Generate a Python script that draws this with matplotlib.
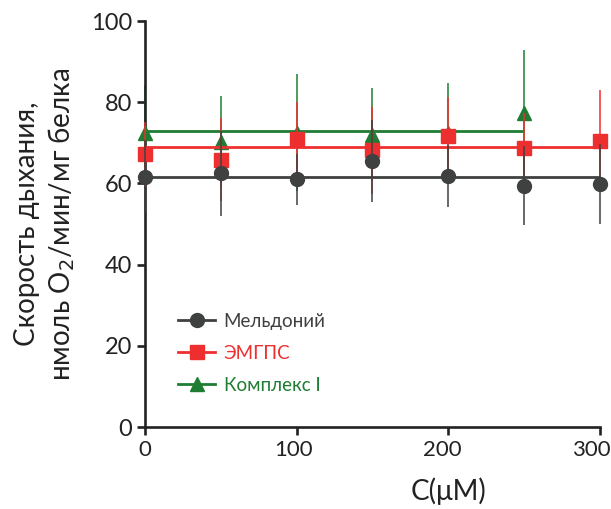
import matplotlib
matplotlib.use("Agg")
import matplotlib.pyplot as plt
from matplotlib.lines import Line2D
from matplotlib.transforms import ScaledTranslation

plt.rcParams['font.family'] = ['Lato', 'DejaVu Sans']

# data
conc = [0, 50, 100, 150, 200, 250, 300]
meld = [61.6, 62.5, 61.0, 65.5, 61.8, 59.4, 59.8]
meld_err = [9.0, 10.5, 6.2, 10.0, 7.7, 9.7, 9.9]
emgps = [67.2, 65.8, 70.9, 68.2, 71.8, 68.6, 70.4]
emgps_err = [8.0, 10.2, 9.2, 10.7, 9.4, 8.7, 12.6]
conc_c1 = [0, 50, 100, 150, 200, 250]
compl = [72.3, 70.3, 72.5, 72.0, 72.3, 77.4]
compl_err = [12.0, 11.3, 14.4, 11.5, 12.4, 15.5]
mean_meld = 61.7
mean_emgps = 69.0
mean_compl = 73.0

labels = ['Мельдоний', 'ЭМГПС', 'Комплекс I']
c_grey = '#3f4040'
c_red = '#ee2f2f'
c_green = '#1e7d32'

fig = plt.figure(figsize=(6.11, 5.09), dpi=100)
ax = fig.add_axes([0.2373, 0.1611, 0.982 - 0.2373, 0.9587 - 0.1611])

# green
ax.errorbar(conc_c1, compl, yerr=compl_err, fmt='none', ecolor=c_green, elinewidth=1.1, capsize=0, zorder=2, clip_on=False)
ax.hlines(mean_compl, conc_c1[0], conc_c1[-1], color=c_green, lw=2.0, zorder=2)
ax.plot(conc_c1, compl, '^', color=c_green, ms=10.5, zorder=3, clip_on=False)
# red
ax.errorbar(conc, emgps, yerr=emgps_err, fmt='none', ecolor=c_red, elinewidth=1.1, capsize=0, zorder=4, clip_on=False)
ax.hlines(mean_emgps, conc[0], conc[-1], color=c_red, lw=2.0, zorder=4)
ax.plot(conc, emgps, 's', color=c_red, ms=10.5, zorder=5, clip_on=False)
# grey
ax.errorbar(conc, meld, yerr=meld_err, fmt='none', ecolor=c_grey, elinewidth=1.1, capsize=0, zorder=6, clip_on=False)
ax.hlines(mean_meld, conc[0], conc[-1], color=c_grey, lw=2.0, zorder=6)
ax.plot(conc, meld, 'o', color=c_grey, ms=10, zorder=7, clip_on=False)

ax.set_xlim(0, 300)
ax.set_ylim(0, 100)
ax.set_xticks([0, 100, 200, 300])
ax.set_yticks([0, 20, 40, 60, 80, 100])
for s in ['top', 'right']:
    ax.spines[s].set_visible(False)
for s in ['left', 'bottom']:
    ax.spines[s].set_linewidth(1.9)
    ax.spines[s].set_color('#222222')
ax.tick_params(direction='out', length=6, width=1.9, color='#222222', labelcolor='#222222', pad=3)
ax.tick_params(axis='y', labelsize=17)
ax.tick_params(axis='x', labelsize=16)
for i, lab in enumerate(ax.get_xticklabels()):
    lab.set_transform(lab.get_transform() + ScaledTranslation(-0.03 * i, 0, fig.dpi_scale_trans))

ax.set_ylabel('Скорость дыхания,\nнмоль O$_2$/мин/мг белка', fontsize=20, color='#222222', linespacing=1.25)
ax.yaxis.set_label_coords(-0.15, 0.5)
ax.set_xlabel('C(μM)', fontsize=20, color='#222222')
ax.xaxis.set_label_coords(0.668, -0.125)

handles = [
    Line2D([], [], color=c_grey, lw=2, marker='o', ms=10),
    Line2D([], [], color=c_red, lw=2, marker='s', ms=10),
    Line2D([], [], color=c_green, lw=2, marker='^', ms=10),
]
leg = ax.legend(handles, labels, loc='lower left', bbox_to_anchor=(0.035, 0.04), frameon=False,
                fontsize=13.5, handlelength=2.0, labelspacing=0.8, handletextpad=0.45)
for t, c in zip(leg.get_texts(), [c_grey, c_red, c_green]):
    t.set_color(c)

fig.savefig('out.png', dpi=100)
